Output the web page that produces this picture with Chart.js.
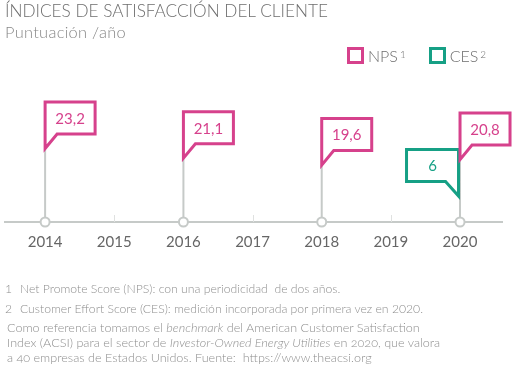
<!DOCTYPE html>
<html>
<head>
<meta charset="utf-8">
<script src="https://cdn.jsdelivr.net/npm/chart.js@4.4.1/dist/chart.umd.min.js"></script>
<style>
  html, body { margin: 0; padding: 0; background: #fff; }
  body { width: 526px; height: 378px; position: relative; overflow: hidden; font-family: Lato, "Open Sans", sans-serif; }
  #c { position: absolute; left: 0; top: 0; }
  .t { position: absolute; white-space: nowrap; }
  #title { left: 5px; top: 0px; font-size: 17.2px; font-weight: 300; color: #6e6e6e; }
  #sub { left: 5px; top: 22px; font-size: 16.4px; font-weight: 300; color: #888; letter-spacing: 0.3px; }
  #legend { left: 347px; top: 46px; font-size: 16px; font-weight: 300; color: #6e6e6e; display: flex; align-items: center; }
  .sq { display: inline-block; width: 11px; height: 11px; border: 3px solid; margin-right: 4px; }
  .li { display: flex; align-items: center; }
  sup { font-size: 10px; position: relative; top: -2px; vertical-align: top; margin-left: 2px; }
  .fn { left: 5px; font-size: 12.2px; font-weight: 300; color: #8f8f8f; }
  .fn b { font-weight: 300; display: inline-block; width: 15px; }
  #para { left: 7px; top: 320px; font-size: 12.6px; font-weight: 300; line-height: 15px; color: #8f8f8f; font-variant-numeric: oldstyle-nums; }
</style>
</head>
<body>
<canvas id="c" width="526" height="378"></canvas>
<div class="t" id="title">ÍNDICES DE SATISFACCIÓN DEL CLIENTE</div>
<div class="t" id="sub">Puntuación /año</div>
<div class="t" id="legend">
  <span class="li"><span class="sq" style="border-color:#d6418c"></span>NPS<sup>1</sup></span>
  <span class="li" style="margin-left:23px"><span class="sq" style="border-color:#16a085"></span>CES<sup>2</sup></span>
</div>
<div class="t fn" style="top:281px"><b>1</b>Net Promote Score (NPS): con una periodicidad&nbsp; de dos años.</div>
<div class="t fn" style="top:301px"><b>2</b>Customer Effort Score (CES): medición incorporada por primera vez en 2020.</div>
<div class="t" id="para">Como referencia tomamos el <i>benchmark</i> del American Customer Satisfaction<br>Index (ACSI) para el sector de <i>Investor-Owned Energy Utilities</i> en 2020, que valora<br>a 40 empresas de Estados Unidos. Fuente:&nbsp; https://www.theacsi.org</div>
<script>
// ---- data ----
const npsYears = [2014, 2016, 2018, 2020];
const npsValues = [23.2, 21.1, 19.6, 20.8];
const npsLabels = ["23,2", "21,1", "19,6", "20,8"];
const cesYears = [2020];
const cesValues = [6];
const cesLabels = ["6"];
const tickYears = [2014, 2015, 2016, 2017, 2018, 2019, 2020];

const PINK = '#d6418c', TEAL = '#16a085', GREY = '#c6cac8';

const flagPlugin = {
  id: 'flags',
  afterDraw(chart) {
    const ctx = chart.ctx;
    const xs = chart.scales.x;
    const base = chart.chartArea.bottom;
    const npsMeta = chart.getDatasetMeta(0);
    const cesMeta = chart.getDatasetMeta(1);
    ctx.save();
    // small ticks at odd years
    ctx.strokeStyle = '#dfe1e0';
    ctx.lineWidth = 1;
    tickYears.forEach(y => {
      if (npsYears.indexOf(y) === -1) {
        const px = Math.round(xs.getPixelForValue(y)) + 0.5;
        ctx.beginPath(); ctx.moveTo(px, base - 7); ctx.lineTo(px, base); ctx.stroke();
      }
    });
    // stems
    const tips = {};
    npsMeta.data.forEach((p, i) => { const k = npsYears[i]; tips[k] = Math.min(tips[k] ?? base, p.y); });
    cesMeta.data.forEach((p, i) => { const k = cesYears[i]; tips[k] = Math.min(tips[k] ?? base, p.y); });
    ctx.strokeStyle = GREY; ctx.lineWidth = 2;
    Object.keys(tips).forEach(k => {
      const px = xs.getPixelForValue(+k);
      ctx.beginPath(); ctx.moveTo(px, base); ctx.lineTo(px, tips[k]); ctx.stroke();
    });
    ctx.lineJoin = 'miter';
    ctx.lineWidth = 3;
    ctx.font = '15px Lato';
    ctx.textAlign = 'center'; ctx.textBaseline = 'middle';
    // CES flags (tail bottom-right)
    cesMeta.data.forEach((p, i) => {
      const x = p.x - 1.5, ty = p.y;
      const top = ty - 46.5, bot = ty - 14.5, left = x - 52;
      ctx.beginPath();
      ctx.moveTo(x, ty); ctx.lineTo(x, top); ctx.lineTo(left, top); ctx.lineTo(left, bot); ctx.lineTo(x - 13, bot); ctx.closePath();
      ctx.fillStyle = '#fff'; ctx.fill();
      ctx.strokeStyle = TEAL; ctx.stroke();
      ctx.fillStyle = TEAL;
      ctx.fillText(cesLabels[i], (x + left) / 2, (top + bot) / 2 + 1);
    });
    // NPS flags (tail bottom-left)
    npsMeta.data.forEach((p, i) => {
      const x = p.x, ty = p.y;
      const top = ty - 46.5, bot = ty - 14.5, right = x + 50;
      ctx.beginPath();
      ctx.moveTo(x, ty); ctx.lineTo(x, top); ctx.lineTo(right, top); ctx.lineTo(right, bot); ctx.lineTo(x + 12, bot); ctx.closePath();
      ctx.fillStyle = '#fff'; ctx.fill();
      ctx.strokeStyle = PINK; ctx.stroke();
      ctx.fillStyle = PINK;
      ctx.fillText(npsLabels[i], (x + right) / 2, (top + bot) / 2 + 1);
    });
    // circles on axis
    ctx.lineWidth = 2; ctx.strokeStyle = GREY; ctx.fillStyle = '#fff';
    Object.keys(tips).forEach(k => {
      const px = xs.getPixelForValue(+k);
      ctx.beginPath(); ctx.arc(px, base, 4.5, 0, Math.PI * 2); ctx.fill(); ctx.stroke();
    });
    ctx.restore();
  }
};

new Chart(document.getElementById('c'), {
  type: 'line',
  data: {
    datasets: [
      { label: 'NPS', data: npsYears.map((y, i) => ({ x: y, y: npsValues[i] })), yAxisID: 'y', showLine: false, pointRadius: 0, borderColor: PINK },
      { label: 'CES', data: cesYears.map((y, i) => ({ x: y, y: cesValues[i] })), yAxisID: 'y2', showLine: false, pointRadius: 0, borderColor: TEAL }
    ]
  },
  options: {
    responsive: false,
    animation: false,
    devicePixelRatio: 1,
    layout: { padding: { left: 5, right: 24, top: 60, bottom: 126 } },
    plugins: { legend: { display: false }, tooltip: { enabled: false } },
    events: [],
    scales: {
      x: {
        type: 'linear', min: 2013.42, max: 2020.607,
        afterBuildTicks: s => { s.ticks = tickYears.map(v => ({ value: v })); },
        afterFit: s => { s.height = 30; },
        grid: { display: false, drawTicks: false },
        border: { display: true, color: GREY, width: 2 },
        ticks: { padding: 11, color: '#666', font: { family: 'Lato', size: 15 }, callback: v => String(v), maxRotation: 0, autoSkip: false }
      },
      y: { display: false, min: 7.2, max: 42.5 },
      y2: { display: false, min: 0, max: 37.4 }
    }
  },
  plugins: [flagPlugin]
});
</script>
</body>
</html>
